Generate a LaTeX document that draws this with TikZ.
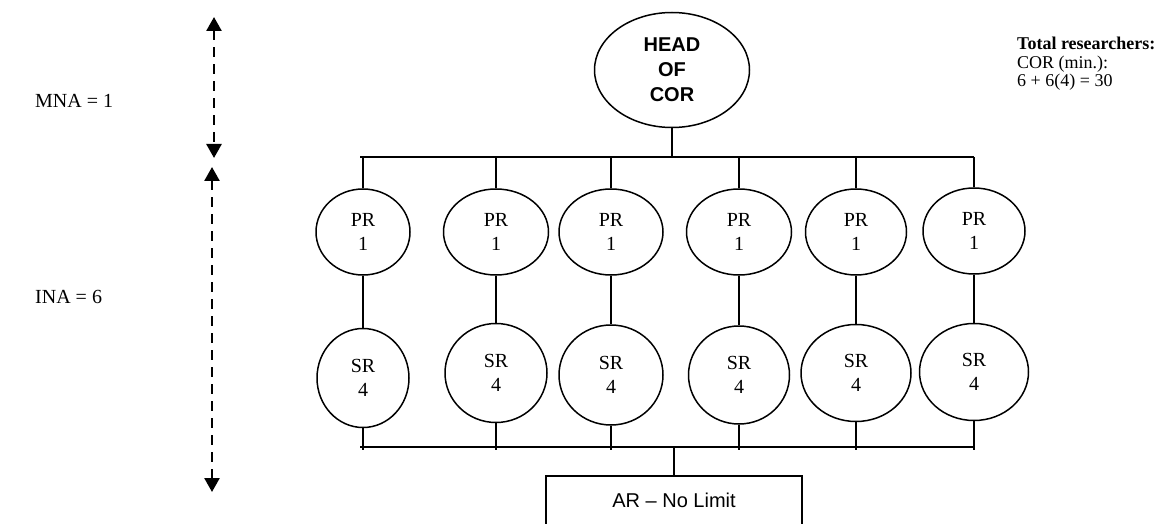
\documentclass[tikz,border=0pt]{standalone}
\usepackage{fontspec}
\setmainfont{Liberation Serif}
\newfontfamily\arialf[Ligatures=TeX]{Liberation Sans}
\usetikzlibrary{shapes.geometric,arrows.meta}
\begin{document}
\begin{tikzpicture}[x=1pt,y=-1pt,
  every node/.style={font=\fontsize{20pt}{24pt}\selectfont},
  conn/.style={line width=1.5pt},
  oval/.style={ellipse,draw,line width=1.5pt,inner sep=0pt,align=center},
  headtxt/.style={font=\arialf\bfseries\fontsize{20pt}{25pt}\selectfont},
  dasharrow/.style={line width=2.6pt,dash pattern=on 10pt off 7pt,
     {Triangle[width=15pt,length=14pt]}-{Triangle[width=15pt,length=14pt]}},
  lbl/.style={anchor=west,inner sep=0pt}]
\useasboundingbox (0,0) rectangle (1168,524);
\clip (0,0) rectangle (1168,524);

% left arrows and labels
\coordinate (a1t) at (214,17);
\coordinate (a1b) at (214,158);
\coordinate (a2t) at (212,167);
\coordinate (a2b) at (212,492);
\draw[dasharrow] (a1t) -- (a1b);
\draw[dasharrow] (a2t) -- (a2b);
\node[lbl] (mna) at (35,101) {MNA = 1};
\node[lbl] (ina) at (35,297) {INA = 6};

% head
\node[oval,headtxt,minimum width=155pt,minimum height=115pt] (head) at (672,70) {HEAD\\OF\\COR};

% total text
\node[anchor=north west,align=left,inner sep=0pt,font=\fontsize{18pt}{18.5pt}\selectfont] (tot) at (1017,37)
  {\textbf{Total researchers:}\\COR (min.):\\6 + 6(4) = 30};

% PR row
\node[oval,minimum width=94pt,minimum height=86pt]  (pr1) at (363,232) {PR\\1};
\node[oval,minimum width=105pt,minimum height=86pt] (pr2) at (496,232) {PR\\1};
\node[oval,minimum width=104pt,minimum height=86pt] (pr3) at (611,232) {PR\\1};
\node[oval,minimum width=105pt,minimum height=86pt] (pr4) at (739,232) {PR\\1};
\node[oval,minimum width=101pt,minimum height=86pt] (pr5) at (856,232) {PR\\1};
\node[oval,minimum width=102pt,minimum height=86pt] (pr6) at (974,231) {PR\\1};

% SR row
\node[oval,minimum width=92pt,minimum height=99pt]  (sr1) at (363,378) {SR\\4};
\node[oval,minimum width=102pt,minimum height=99pt] (sr2) at (496,373) {SR\\4};
\node[oval,minimum width=104pt,minimum height=100pt] (sr3) at (611,375) {SR\\4};
\node[oval,minimum width=101pt,minimum height=98pt] (sr4) at (739,375) {SR\\4};
\node[oval,minimum width=110pt,minimum height=97pt] (sr5) at (856,373) {SR\\4};
\node[oval,minimum width=109pt,minimum height=97pt] (sr6) at (974,372) {SR\\4};

% AR box
\node[draw,line width=1.5pt,anchor=north,minimum width=256pt,inner ysep=0pt,
  font=\arialf\fontsize{20pt}{24pt}\selectfont] (ar) at (674,475)
  {\rule[-40pt]{0pt}{72pt}AR – No Limit};

% top bar
\coordinate (tl) at (360,157);
\coordinate (tr) at (974,157);
\draw[conn] (tl) -- (tr);
\draw[conn] (head.south) -- (head.south |- tl);
\foreach \i in {1,...,6} {
  \draw[conn] (pr\i.north |- tl) -- (pr\i.north);
  \draw[conn] (pr\i.south) -- (sr\i.north);
}
% bottom bar
\coordinate (bl) at (360,447);
\coordinate (br) at (974,447);
\coordinate (bt) at (0,450);
\draw[conn] (bl) -- (br);
\foreach \i in {1,...,6} {
  \draw[conn] (sr\i.south) -- (sr\i.south |- bt);
}
\draw[conn] (ar.north |- bl) -- (ar.north);
\end{tikzpicture}
\end{document}
